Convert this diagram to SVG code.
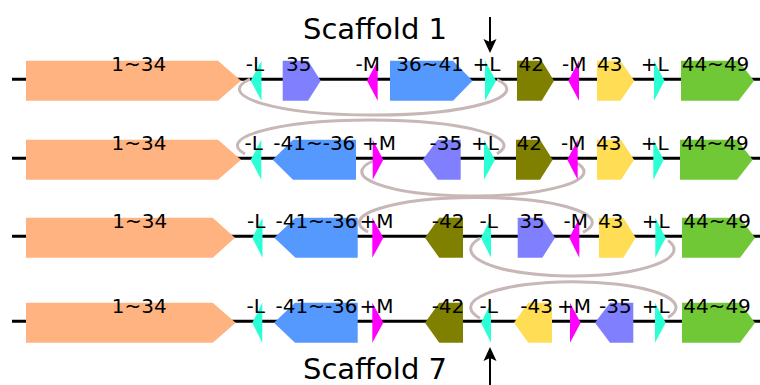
<svg xmlns="http://www.w3.org/2000/svg" width="760" height="385" viewBox="0 0 760 385">
  <defs>
    <style>
      .bb { stroke: #000; stroke-width: 3; fill: none; }
      .lbl { font-family: "DejaVu Sans", Verdana, sans-serif; font-size: 20px; fill: #000; text-anchor: middle; }
      .title { font-family: "DejaVu Sans", Verdana, sans-serif; font-size: 29px; fill: #000; }
      .loop { stroke: #C8B7B7; stroke-width: 3; fill: none; }
      .ptr { stroke: #000; stroke-width: 2; fill: none; }
      .orange { fill: #FFB380; }
      .cyan { fill: #2AFFD5; }
      .purple { fill: #8080FF; }
      .magenta { fill: #FF00FF; }
      .blue { fill: #5599FF; }
      .olive { fill: #808000; }
      .yellow { fill: #FFDD55; }
      .green { fill: #71C837; }
    </style>
  </defs>
  <rect width="760" height="385" fill="#fff"/>

  <!-- titles and position pointers -->
  <text class="title" x="303" y="39">Scaffold 1</text>
  <text class="title" x="303" y="379">Scaffold 7</text>
  <g id="pointers">
    <line class="ptr" x1="490" y1="17" x2="490" y2="42"/>
    <polygon points="483.5,39 490,53 496.5,39 490,42" fill="#000"/>
    <line class="ptr" x1="490" y1="358" x2="490" y2="385"/>
    <polygon points="483.5,361 490,347 496.5,361 490,358" fill="#000"/>
  </g>

  <!-- backbone lines -->
  <g id="backbones">
    <line class="bb" x1="12" y1="79.3" x2="760" y2="79.3"/>
    <line class="bb" x1="12" y1="158.3" x2="760" y2="158.3"/>
    <line class="bb" x1="12" y1="236.3" x2="760" y2="236.3"/>
    <line class="bb" x1="12" y1="321.3" x2="760" y2="321.3"/>
  </g>

  <!-- inversion loops between rows -->
  <g id="connectors">
    <path class="loop" d="M250 79.1 A133.7 25.8 0 1 0 497 79.5"/>
    <path class="loop" d="M245 154 A133.3 25.5 0 1 1 497 153.7"/>
    <path class="loop" d="M373 161 A111.15 24.3 0 1 0 576 162.6"/>
    <path class="loop" d="M368 232 A116.5 25 0 1 1 583 232.3"/>
    <path class="loop" d="M480 238.3 A101.65 26.6 0 1 0 668 240.4"/>
    <path class="loop" d="M480 318.25 A102.65 25.85 0 1 1 668 317.5"/>
  </g>

  <!-- row 1 (Scaffold 1) -->
  <g id="row1" transform="translate(0,79.3)">
    <g id="r1-g1-34"><polygon class="orange" points="26,-18.5 218,-18.5 241,1.5 218,21.5 26,21.5"/><text class="lbl" x="138.7" y="-8.5">1~34</text></g>
    <g id="r1-L1"><polygon class="cyan" points="261.5,-18.5 250.7,1.5 261.5,21.5"/><text class="lbl" x="255" y="-8.5">-L</text></g>
    <g id="r1-g35"><polygon class="purple" points="282.7,-18.5 308,-18.5 320.7,1.5 308,21.5 282.7,21.5"/><text class="lbl" x="298.7" y="-8.5">35</text></g>
    <g id="r1-M1"><polygon class="magenta" points="377.7,-18.5 367,1.5 377.7,21.5"/><text class="lbl" x="367.7" y="-8.5">-M</text></g>
    <g id="r1-g36-41"><polygon class="blue" points="390,-18.5 453,-18.5 472.5,1.5 453,21.5 390,21.5"/><text class="lbl" x="430" y="-8.5">36~41</text></g>
    <g id="r1-L2"><polygon class="cyan" points="485,-18.5 496,1.5 485,21.5"/><text class="lbl" x="486.5" y="-8.5">+L</text></g>
    <g id="r1-g42"><polygon class="olive" points="517,-18.5 541.7,-18.5 554,1.5 541.7,21.5 517,21.5"/><text class="lbl" x="531.3" y="-8.5">42</text></g>
    <g id="r1-M2"><polygon class="magenta" points="579,-18.5 568.3,1.5 579,21.5"/><text class="lbl" x="574.3" y="-8.5">-M</text></g>
    <g id="r1-g43"><polygon class="yellow" points="597,-18.5 620.5,-18.5 634.3,1.5 620.5,21.5 597,21.5"/><text class="lbl" x="609.7" y="-8.5">43</text></g>
    <g id="r1-L3"><polygon class="cyan" points="654,-18.5 664.5,1.5 654,21.5"/><text class="lbl" x="654.8" y="-8.5">+L</text></g>
    <g id="r1-g44-49"><polygon class="green" points="681,-18.5 738.5,-18.5 754,1.5 738.5,21.5 681,21.5"/><text class="lbl" x="715.5" y="-8.5">44~49</text></g>
  </g>

  <!-- row 2 -->
  <g id="row2" transform="translate(0,158.3)">
    <g id="r2-g1-34"><polygon class="orange" points="26,-18.5 218,-18.5 241,1.5 218,21.5 26,21.5"/><text class="lbl" x="139" y="-8.5">1~34</text></g>
    <g id="r2-L1"><polygon class="cyan" points="261.3,-18.5 250.7,1.5 261.3,21.5"/><text class="lbl" x="253.8" y="-8.5">-L</text></g>
    <g id="r2-g41-36"><polygon class="blue" points="272.7,1.5 293,-18.5 356,-18.5 356,21.5 293,21.5"/><text class="lbl" x="314.3" y="-8.5">-41~-36</text></g>
    <g id="r2-M1"><polygon class="magenta" points="372.7,-18.5 383.3,1.5 372.7,21.5"/><text class="lbl" x="379" y="-8.5">+M</text></g>
    <g id="r2-g35"><polygon class="purple" points="422.7,1.5 437.7,-18.5 460.7,-18.5 460.7,21.5 437.7,21.5"/><text class="lbl" x="445.8" y="-8.5">-35</text></g>
    <g id="r2-L2"><polygon class="cyan" points="484,-18.5 495,1.5 484,21.5"/><text class="lbl" x="485" y="-8.5">+L</text></g>
    <g id="r2-g42"><polygon class="olive" points="516,-18.5 540,-18.5 552.7,1.5 540,21.5 516,21.5"/><text class="lbl" x="529.2" y="-8.5">42</text></g>
    <g id="r2-M2"><polygon class="magenta" points="577.7,-18.5 567.3,1.5 577.7,21.5"/><text class="lbl" x="573.3" y="-8.5">-M</text></g>
    <g id="r2-g43"><polygon class="yellow" points="597,-18.5 621,-18.5 634,1.5 621,21.5 597,21.5"/><text class="lbl" x="608.7" y="-8.5">43</text></g>
    <g id="r2-L3"><polygon class="cyan" points="653.3,-18.5 663.7,1.5 653.3,21.5"/><text class="lbl" x="654.8" y="-8.5">+L</text></g>
    <g id="r2-g44-49"><polygon class="green" points="680,-18.5 737,-18.5 752.7,1.5 737,21.5 680,21.5"/><text class="lbl" x="715" y="-8.5">44~49</text></g>
  </g>

  <!-- row 3 -->
  <g id="row3" transform="translate(0,236.3)">
    <g id="r3-g1-34"><polygon class="orange" points="26,-18.5 212.7,-18.5 235,1.5 212.7,21.5 26,21.5"/><text class="lbl" x="139.8" y="-8.5">1~34</text></g>
    <g id="r3-L1"><polygon class="cyan" points="262.5,-18.5 252.3,1.5 262.5,21.5"/><text class="lbl" x="256.2" y="-8.5">-L</text></g>
    <g id="r3-g41-36"><polygon class="blue" points="274.3,1.5 295.5,-18.5 357.7,-18.5 357.7,21.5 295.5,21.5"/><text class="lbl" x="316.5" y="-8.5">-41~-36</text></g>
    <g id="r3-M1"><polygon class="magenta" points="372.3,-18.5 383.3,1.5 372.3,21.5"/><text class="lbl" x="376.5" y="-8.5">+M</text></g>
    <g id="r3-g42"><polygon class="olive" points="425,1.5 439.3,-18.5 463,-18.5 463,21.5 439.3,21.5"/><text class="lbl" x="448.2" y="-8.5">-42</text></g>
    <g id="r3-L2"><polygon class="cyan" points="491,-18.5 481,1.5 491,21.5"/><text class="lbl" x="488.8" y="-8.5">-L</text></g>
    <g id="r3-g35"><polygon class="purple" points="517.7,-18.5 542.3,-18.5 555,1.5 542.3,21.5 517.7,21.5"/><text class="lbl" x="532" y="-8.5">35</text></g>
    <g id="r3-M2"><polygon class="magenta" points="579.3,-18.5 569.3,1.5 579.3,21.5"/><text class="lbl" x="575.8" y="-8.5">-M</text></g>
    <g id="r3-g43"><polygon class="yellow" points="599,-18.5 623.3,-18.5 635.7,1.5 623.3,21.5 599,21.5"/><text class="lbl" x="610.7" y="-8.5">43</text></g>
    <g id="r3-L3"><polygon class="cyan" points="655.3,-18.5 665.7,1.5 655.3,21.5"/><text class="lbl" x="655.8" y="-8.5">+L</text></g>
    <g id="r3-g44-49"><polygon class="green" points="682,-18.5 740,-18.5 755,1.5 740,21.5 682,21.5"/><text class="lbl" x="717.2" y="-8.5">44~49</text></g>
  </g>

  <!-- row 4 (Scaffold 7) -->
  <g id="row4" transform="translate(0,321.3)">
    <g id="r4-g1-34"><polygon class="orange" points="26,-18.5 212.7,-18.5 235.7,1.5 212.7,21.5 26,21.5"/><text class="lbl" x="139.2" y="-8.5">1~34</text></g>
    <g id="r4-L1"><polygon class="cyan" points="262.3,-18.5 252.3,1.5 262.3,21.5"/><text class="lbl" x="255.8" y="-8.5">-L</text></g>
    <g id="r4-g41-36"><polygon class="blue" points="274,1.5 295,-18.5 357.7,-18.5 357.7,21.5 295,21.5"/><text class="lbl" x="316.5" y="-8.5">-41~-36</text></g>
    <g id="r4-M1"><polygon class="magenta" points="372.3,-18.5 383.3,1.5 372.3,21.5"/><text class="lbl" x="376.5" y="-8.5">+M</text></g>
    <g id="r4-g42"><polygon class="olive" points="425,1.5 439.3,-18.5 463,-18.5 463,21.5 439.3,21.5"/><text class="lbl" x="448" y="-8.5">-42</text></g>
    <g id="r4-L2"><polygon class="cyan" points="491,-18.5 481,1.5 491,21.5"/><text class="lbl" x="488.8" y="-8.5">-L</text></g>
    <g id="r4-g43"><polygon class="yellow" points="514,1.5 528.3,-18.5 552,-18.5 552,21.5 528.3,21.5"/><text class="lbl" x="536.7" y="-8.5">-43</text></g>
    <g id="r4-M2"><polygon class="magenta" points="570,-18.5 580.7,1.5 570,21.5"/><text class="lbl" x="574" y="-8.5">+M</text></g>
    <g id="r4-g35"><polygon class="purple" points="595,1.5 610,-18.5 633.3,-18.5 633.3,21.5 610,21.5"/><text class="lbl" x="615.3" y="-8.5">-35</text></g>
    <g id="r4-L3"><polygon class="cyan" points="655,-18.5 665.7,1.5 655,21.5"/><text class="lbl" x="655.8" y="-8.5">+L</text></g>
    <g id="r4-g44-49"><polygon class="green" points="682,-18.5 740,-18.5 755,1.5 740,21.5 682,21.5"/><text class="lbl" x="717" y="-8.5">44~49</text></g>
  </g>
</svg>
